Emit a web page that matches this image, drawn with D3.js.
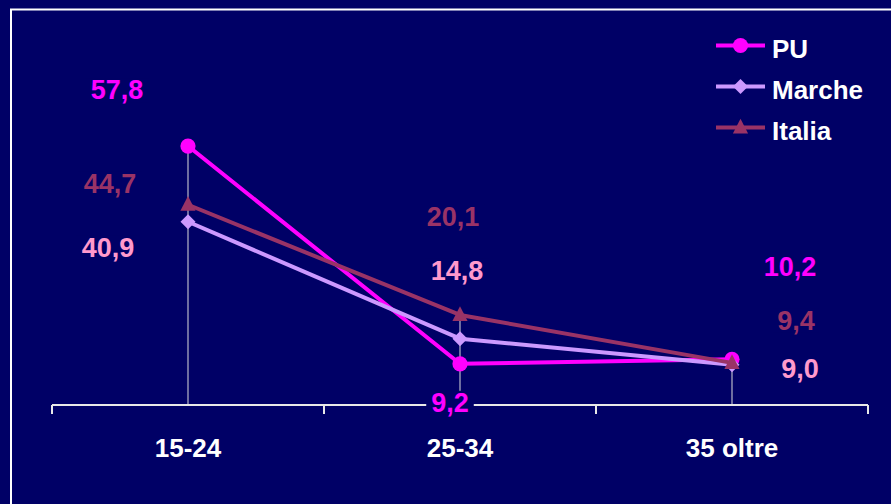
<!DOCTYPE html>
<html>
<head>
<meta charset="utf-8">
<script src="https://cdnjs.cloudflare.com/ajax/libs/d3/7.8.5/d3.min.js"></script>
<style>
  html, body { margin: 0; padding: 0; background: #000066; }
  svg { display: block; }
  text { font-family: "Liberation Sans", Arial, sans-serif; font-weight: bold; }
</style>
</head>
<body>
<svg id="chart" width="891" height="504"></svg>
<script>
// ---- data ----
const categories = ["15-24", "25-34", "35 oltre"];
const seriesNames = ["PU", "Marche", "Italia"];
const valuesPU = [57.8, 9.2, 10.2];
const valuesMarche = [40.9, 14.8, 9.0];
const valuesItalia = [44.7, 20.1, 9.4];
const labelsPU = ["57,8", "9,2", "10,2"];
const labelsMarche = ["40,9", "14,8", "9,0"];
const labelsItalia = ["44,7", "20,1", "9,4"];

// ---- style / layout ----
const lineColors = { PU: "#FF00FF", Marche: "#CC99FF", Italia: "#993366" };
const labelColors = { PU: "#FF00FF", Marche: "#FF99CC", Italia: "#993366" };
const markerShapes = { PU: "circle", Marche: "diamond", Italia: "triangle" };
// label offsets (px) relative to each point: [dx, dy of baseline]
const labelOffsets = {
  PU: [[-71, -47], [-10, 48], [58, -83]],
  Marche: [[-80, 35], [-3, -59], [68, 13]],
  Italia: [[-78, -12], [-7, -89], [64, -33]]
};

const series = [
  { name: "PU", values: valuesPU, labels: labelsPU },
  { name: "Marche", values: valuesMarche, labels: labelsMarche },
  { name: "Italia", values: valuesItalia, labels: labelsItalia }
];

const svg = d3.select("#chart");
const bg = "#000066";
svg.append("rect").attr("width", 891).attr("height", 504).attr("fill", bg);
// frame
svg.append("rect").attr("x", 11).attr("y", 9.5).attr("width", 920).attr("height", 540)
  .attr("fill", "none").attr("stroke", "#FFFFFF").attr("stroke-width", 2);

const x = d3.scaleBand().domain(categories).range([52, 868]).padding(0);
const y = d3.scaleLinear().domain([0, 60]).range([405, 136.2]);
const cx = c => x(c) + x.bandwidth() / 2;

// drop lines from highest point to axis
const g = svg.append("g");
categories.forEach((c, i) => {
  const maxV = d3.max(series, s => s.values[i]);
  g.append("line")
    .attr("x1", cx(c)).attr("x2", cx(c))
    .attr("y1", y(maxV)).attr("y2", y(0))
    .attr("stroke", "#B8B8C8").attr("stroke-width", 1.2);
});

// x axis
const axisG = svg.append("g");
axisG.append("line").attr("x1", x.range()[0]).attr("x2", x.range()[1])
  .attr("y1", y(0)).attr("y2", y(0)).attr("stroke", "#E8E8E8").attr("stroke-width", 2);
const tickPositions = categories.map(c => x(c)).concat([x.range()[1]]);
tickPositions.forEach(t => {
  axisG.append("line").attr("x1", t).attr("x2", t)
    .attr("y1", y(0)).attr("y2", y(0) + 9)
    .attr("stroke", "#E8E8E8").attr("stroke-width", 2);
});
categories.forEach(c => {
  axisG.append("text").attr("x", cx(c)).attr("y", 457)
    .attr("text-anchor", "middle").attr("fill", "#FFFFFF")
    .attr("font-size", 26).text(c);
});

function marker(sel, shape, color) {
  if (shape === "circle") {
    sel.append("circle").attr("r", 7.6).attr("fill", color);
  } else if (shape === "diamond") {
    sel.append("path").attr("d", "M0,-7.5L7.5,0L0,7.5L-7.5,0Z").attr("fill", color);
  } else {
    sel.append("path").attr("d", "M0,-8.7L7.6,6L-7.6,6Z").attr("fill", color);
  }
}

const line = d3.line().x(d => cx(d.c)).y(d => y(d.v));
series.forEach(s => {
  const pts = categories.map((c, i) => ({ c, v: s.values[i] }));
  svg.append("path").datum(pts).attr("d", line)
    .attr("fill", "none").attr("stroke", lineColors[s.name])
    .attr("stroke-width", 4).attr("stroke-linejoin", "round");
  pts.forEach(p => {
    const m = svg.append("g").attr("transform", `translate(${cx(p.c)},${y(p.v)})`);
    marker(m, markerShapes[s.name], lineColors[s.name]);
  });
});

// data labels
series.forEach(s => {
  categories.forEach((c, i) => {
    const [dx, dy] = labelOffsets[s.name][i];
    const lx = cx(c) + dx, ly = y(s.values[i]) + dy;
    const lg = svg.append("g");
    const t = lg.append("text").attr("x", lx).attr("y", ly)
      .attr("text-anchor", "middle").attr("fill", labelColors[s.name])
      .attr("font-size", 27).text(s.labels[i]);
    const bb = t.node().getBBox();
    lg.insert("rect", "text")
      .attr("x", bb.x - 5).attr("y", bb.y + 3)
      .attr("width", bb.width + 10).attr("height", bb.height - 6)
      .attr("fill", bg);
  });
});

// legend
const legendY0 = 45.5, legendStep = 41;
seriesNames.forEach((n, i) => {
  const ly = legendY0 + i * legendStep;
  const lg = svg.append("g");
  lg.append("line").attr("x1", 716).attr("x2", 765).attr("y1", ly).attr("y2", ly)
    .attr("stroke", lineColors[n]).attr("stroke-width", 4);
  const m = lg.append("g").attr("transform", `translate(740.5,${ly})`);
  marker(m, markerShapes[n], lineColors[n]);
  lg.append("text").attr("x", 772).attr("y", ly + 12)
    .attr("fill", "#FFFFFF").attr("font-size", 26).text(n);
});
</script>
</body>
</html>
